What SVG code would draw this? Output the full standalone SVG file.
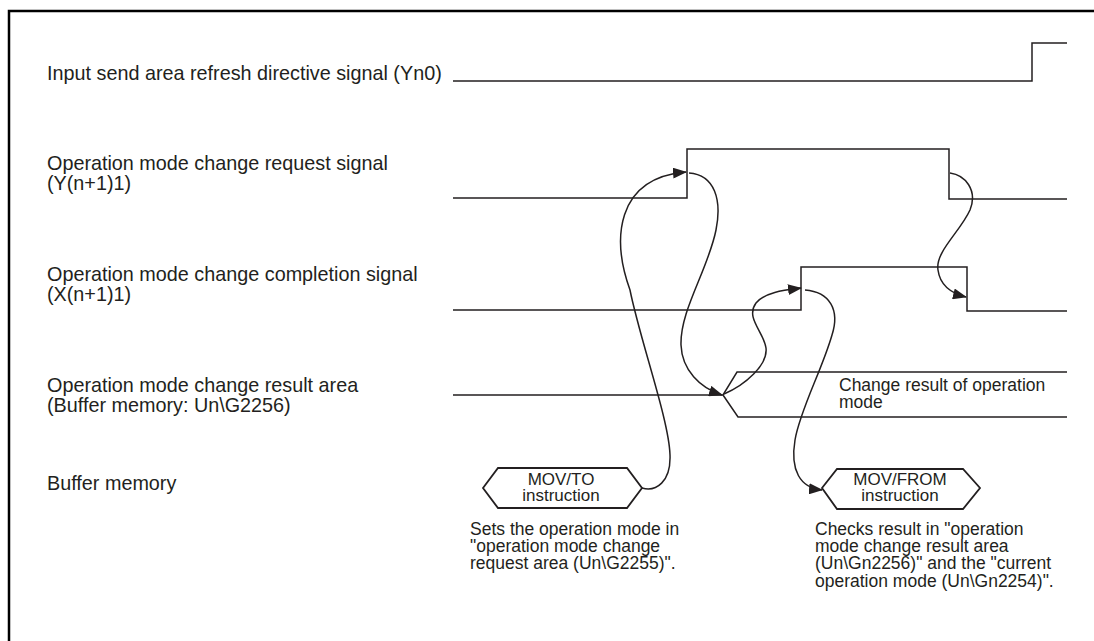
<svg xmlns="http://www.w3.org/2000/svg" width="1094" height="641" viewBox="0 0 1094 641">
<style>
.lbl{font-family:"Liberation Sans",Arial,sans-serif;font-size:19.8px;fill:#231f20}
.sm{font-family:"Liberation Sans",Arial,sans-serif;font-size:17.5px;fill:#231f20}
.box{font-family:"Liberation Sans",Arial,sans-serif;font-size:17px;fill:#231f20;text-anchor:middle}
.sig{fill:none;stroke:#231f20;stroke-width:1.5}
.hex{fill:#fff;stroke:#231f20;stroke-width:1.8}
.arr{fill:none;stroke:#231f20;stroke-width:1.5;marker-end:url(#ah)}
</style>
<defs>
<marker id="ah" markerWidth="14" markerHeight="11" refX="13" refY="5.5" orient="auto" markerUnits="userSpaceOnUse">
<path d="M0,0 L14,5.5 L0,11 z" fill="#231f20"/>
</marker>
</defs>
<rect width="1094" height="641" fill="#fff"/>
<path d="M9,641 V11 H1094" fill="none" stroke="#000" stroke-width="2.5"/>

<g id="sig-yn0">
<text class="lbl" x="47" y="80">Input send area refresh directive signal (Yn0)</text>
<path class="sig" d="M453,81 H1032 V43 H1067"/>
</g>
<g id="sig-req">
<text class="lbl" x="47" y="170">Operation mode change request signal</text>
<text class="lbl" x="47" y="190">(Y(n+1)1)</text>
<path class="sig" d="M453,198 H687 V149 H949 V199 H1067"/>
</g>
<g id="sig-comp">
<text class="lbl" x="47" y="281">Operation mode change completion signal</text>
<text class="lbl" x="47" y="301">(X(n+1)1)</text>
<path class="sig" d="M453,310 H801 V267 H967 V311 H1067"/>
</g>
<g id="sig-result">
<text class="lbl" x="47" y="392">Operation mode change result area</text>
<text class="lbl" x="47" y="412">(Buffer memory: Un\G2256)</text>
<path class="sig" d="M453,395 H723 L737,372 H1067 M723,395 L738,417 H1067"/>
<text class="sm" x="839" y="391">Change result of operation</text>
<text class="sm" x="839" y="408">mode</text>
</g>
<g id="buffer-memory">
<text class="lbl" x="47" y="490">Buffer memory</text>
</g>
<g id="mov-to">
<polygon class="hex" points="483,488 498,468 627,468 642,488 627,508 498,508"/>
<text class="box" x="561" y="485">MOV/TO</text>
<text class="box" x="561" y="501">instruction</text>
<text class="sm" x="470" y="535">Sets the operation mode in</text>
<text class="sm" x="470" y="552">"operation mode change</text>
<text class="sm" x="470" y="569">request area (Un\G2255)".</text>
</g>
<g id="mov-from">
<polygon class="hex" points="822,488 837,469 963,469 980,488 963,509 837,509"/>
<text class="box" x="900" y="485">MOV/FROM</text>
<text class="box" x="900" y="501">instruction</text>
<text class="sm" x="815" y="535">Checks result in "operation</text>
<text class="sm" x="815" y="552">mode change result area</text>
<text class="sm" x="815" y="569">(Un\Gn2256)" and the "current</text>
<text class="sm" x="815" y="587">operation mode (Un\Gn2254)".</text>
</g>
<g id="connectors">
<path class="arr" d="M642,488 C656,492 671,482 670,455 C669,420 640,340 630,290 C612,240 615,178 686,172"/>
<path class="arr" d="M689,173 C715,175 722,200 716,230 C708,270 680,310 681,345 C682,370 700,388 722,395"/>
<path class="arr" d="M724,394 C745,385 768,365 766,348 C764,332 745,318 756,303 C765,292 785,290 801,288"/>
<path class="arr" d="M805,290 C830,292 840,310 832,335 C822,370 800,410 795,440 C790,470 800,488 822,490"/>
<path class="arr" d="M950,173 C965,175 978,190 970,210 C960,232 935,252 938,270 C940,285 950,293 966,297"/>
</g>
</svg>
